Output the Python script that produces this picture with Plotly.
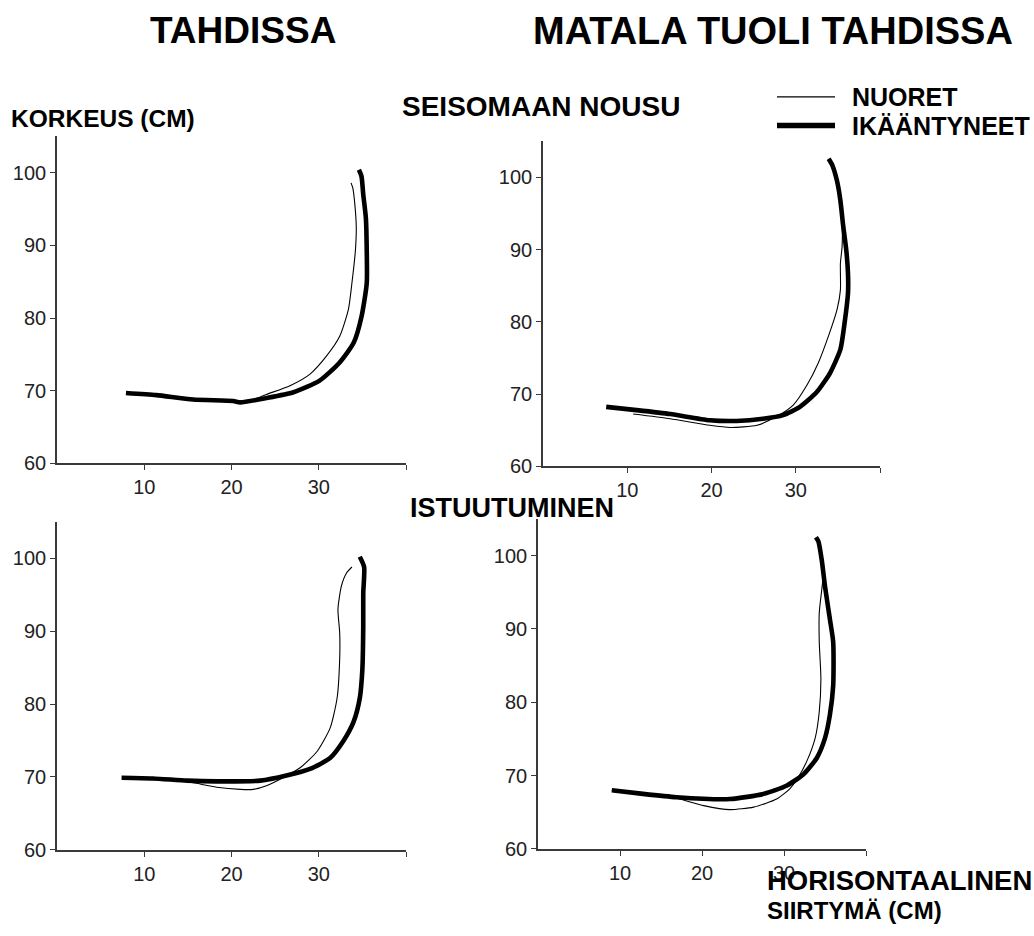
import plotly.graph_objects as go

W, H = 1034, 936

# Tick values shared by all four panels
x_ticks = [10, 20, 30, 40]
x_tick_text = ["10", "20", "30", ""]
y_ticks = [60, 70, 80, 90, 100]
y_tick_text = ["60", "70", "80", "90", "100"]

# Seisomaan nousu, tahdissa
tl_nuoret_x = [8.0, 11.4, 15.6, 20.2, 22.5, 24.0, 26.7, 29.0, 30.9, 32.4, 33.4, 33.8, 34.2, 34.3, 34.1, 33.9, 33.7]
tl_nuoret_y = [69.7, 69.4, 68.8, 68.6, 68.8, 69.5, 70.7, 72.3, 74.8, 77.5, 81.2, 84.8, 89.3, 92.5, 96.1, 97.9, 98.6]
tl_ikaant_x = [7.9, 11.4, 15.6, 20.2, 21.0, 24.0, 27.1, 30.1, 32.4, 34.0, 34.9, 35.5, 35.5, 35.4, 35.1, 34.9, 34.6]
tl_ikaant_y = [69.7, 69.4, 68.8, 68.6, 68.4, 69.0, 69.8, 71.4, 73.9, 76.6, 80.2, 84.8, 89.3, 93.8, 97.0, 99.5, 100.4]

# Seisomaan nousu, matala tuoli tahdissa
tr_nuoret_x = [10.7, 15.1, 19.8, 22.2, 25.4, 27.7, 29.7, 31.3, 32.7, 33.9, 34.9, 35.3, 35.3, 35.5, 35.5, 35.2, 34.8, 34.3]
tr_nuoret_y = [67.25, 66.6, 65.7, 65.4, 65.7, 66.9, 68.5, 71.2, 74.4, 78.1, 81.7, 84.4, 88.1, 90.4, 93.5, 96.8, 99.5, 101.8]
tr_ikaant_x = [7.5, 11.1, 15.1, 19.8, 23.0, 26.1, 28.5, 30.5, 32.5, 34.1, 35.3, 35.8, 36.2, 36.2, 36.0, 35.6, 35.3, 34.9, 34.3, 33.9]
tr_ikaant_y = [68.25, 67.8, 67.25, 66.4, 66.3, 66.6, 67.1, 68.25, 70.3, 73.0, 76.2, 79.9, 84.0, 86.7, 89.9, 93.6, 96.8, 99.5, 101.8, 102.6]

# Istuutuminen, tahdissa
bl_nuoret_x = [7.5, 11.0, 14.9, 16.5, 18.3, 21.0, 22.5, 24.0, 25.9, 27.9, 29.8, 31.3, 32.1, 32.4, 32.4, 32.2, 32.6, 33.2, 33.8]
bl_nuoret_y = [69.9, 69.8, 69.4, 69.0, 68.6, 68.3, 68.3, 68.8, 69.9, 71.3, 73.5, 76.7, 80.8, 86.2, 89.8, 93.0, 96.2, 98.0, 98.8]
bl_ikaant_x = [7.4, 11.0, 14.9, 18.3, 23.3, 26.3, 29.0, 31.3, 32.8, 34.0, 34.7, 35.0, 35.1, 35.1, 35.2, 34.7]
bl_ikaant_y = [69.9, 69.8, 69.5, 69.4, 69.5, 70.2, 71.1, 72.6, 74.9, 77.6, 80.8, 84.8, 90.7, 95.2, 98.8, 100.2]

# Istuutuminen, matala tuoli tahdissa
br_nuoret_x = [9.0, 12.8, 16.9, 20.2, 23.4, 26.3, 29.1, 30.7, 31.7, 32.8, 33.8, 34.3, 34.5, 34.3, 34.3, 34.6, 34.8, 34.6, 34.2]
br_nuoret_y = [68.0, 67.5, 66.9, 65.9, 65.35, 65.7, 66.8, 68.2, 69.7, 72.0, 75.1, 78.7, 83.2, 88.2, 92.2, 95.3, 97.5, 99.4, 101.9]
br_ikaant_x = [9.0, 12.8, 16.9, 23.4, 27.5, 30.3, 32.4, 34.0, 35.0, 35.6, 36.0, 36.0, 35.6, 35.0, 34.6, 34.2, 33.9]
br_ikaant_y = [68.0, 67.5, 67.05, 66.8, 67.5, 68.6, 70.2, 72.4, 75.1, 78.3, 82.3, 88.2, 91.3, 95.8, 99.4, 101.9, 102.5]

panels = [
    (tl_nuoret_x, tl_nuoret_y, tl_ikaant_x, tl_ikaant_y),
    (tr_nuoret_x, tr_nuoret_y, tr_ikaant_x, tr_ikaant_y),
    (bl_nuoret_x, bl_nuoret_y, bl_ikaant_x, bl_ikaant_y),
    (br_nuoret_x, br_nuoret_y, br_ikaant_x, br_ikaant_y),
]

# Panel frames in pixels: left, right, top, bottom
frames = [
    (57, 406, 138, 469),
    (543, 880, 143, 472),
    (57, 406, 528, 860),
    (538, 866, 525, 859),
]

THIN = 1.1
THICK = 4.6
AXIS_COLOR = "#3a3a3a"
FONT = "Liberation Sans, Arial, sans-serif"

fig = go.Figure()
layout = {}
for i, ((nx, ny, ix, iy), (l, r, t, b)) in enumerate(zip(panels, frames), start=1):
    suffix = "" if i == 1 else str(i)
    xa, ya = "x" + suffix, "y" + suffix
    fig.add_trace(go.Scatter(x=nx, y=ny, mode="lines", xaxis=xa, yaxis=ya,
                             line=dict(color="black", width=THIN, shape="spline", smoothing=0.6),
                             name="NUORET", showlegend=False, hoverinfo="skip"))
    fig.add_trace(go.Scatter(x=ix, y=iy, mode="lines", xaxis=xa, yaxis=ya,
                             line=dict(color="black", width=THICK, shape="spline", smoothing=0.6),
                             name="IKÄÄNTYNEET", showlegend=False, hoverinfo="skip"))
    common = dict(showline=True, linecolor=AXIS_COLOR, linewidth=1.6,
                  ticks="outside", tickcolor=AXIS_COLOR, tickwidth=1.4, ticklen=5,
                  showgrid=False, zeroline=False,
                  tickfont=dict(family=FONT, size=20, color="#222"))
    layout["xaxis" + suffix] = dict(common, domain=[l / W, r / W], range=[0, 40],
                                    tickvals=x_ticks, ticktext=x_tick_text,
                                    anchor=ya)
    layout["yaxis" + suffix] = dict(common, domain=[1 - b / H, 1 - t / H], range=[60, 105],
                                    tickvals=y_ticks, ticktext=y_tick_text,
                                    anchor=xa)

fig.update_layout(**layout)


def label(text, px, py, size, anchor="left"):
    fig.add_annotation(text="<b>%s</b>" % text, xref="paper", yref="paper",
                       x=px / W, y=1 - py / H, xanchor=anchor, yanchor="middle",
                       showarrow=False, font=dict(family=FONT, size=size, color="black"))


label("TAHDISSA", 243, 31, 37, "center")
label("MATALA TUOLI TAHDISSA", 773, 31, 38, "center")
label("KORKEUS (CM)", 9, 120, 24.5)
label("SEISOMAAN NOUSU", 400, 108, 28)
label("ISTUUTUMINEN", 408, 514, 27)
label("HORISONTAALINEN", 765, 891, 27.5)
label("SIIRTYMÄ (CM)", 765, 921, 24)

# Legend keys
for text, py, width in [("NUORET", 98, THIN), ("IKÄÄNTYNEET", 127, 5.5)]:
    fig.add_shape(type="line", xref="paper", yref="paper",
                  x0=777 / W, x1=835 / W, y0=1 - py / H, y1=1 - py / H,
                  line=dict(color="black", width=width))
    label(text, 850, py, 25)

fig.update_layout(width=W, height=H, margin=dict(l=0, r=0, t=0, b=0),
                  paper_bgcolor="white", plot_bgcolor="white", showlegend=False)

fig.write_html("out.html")
